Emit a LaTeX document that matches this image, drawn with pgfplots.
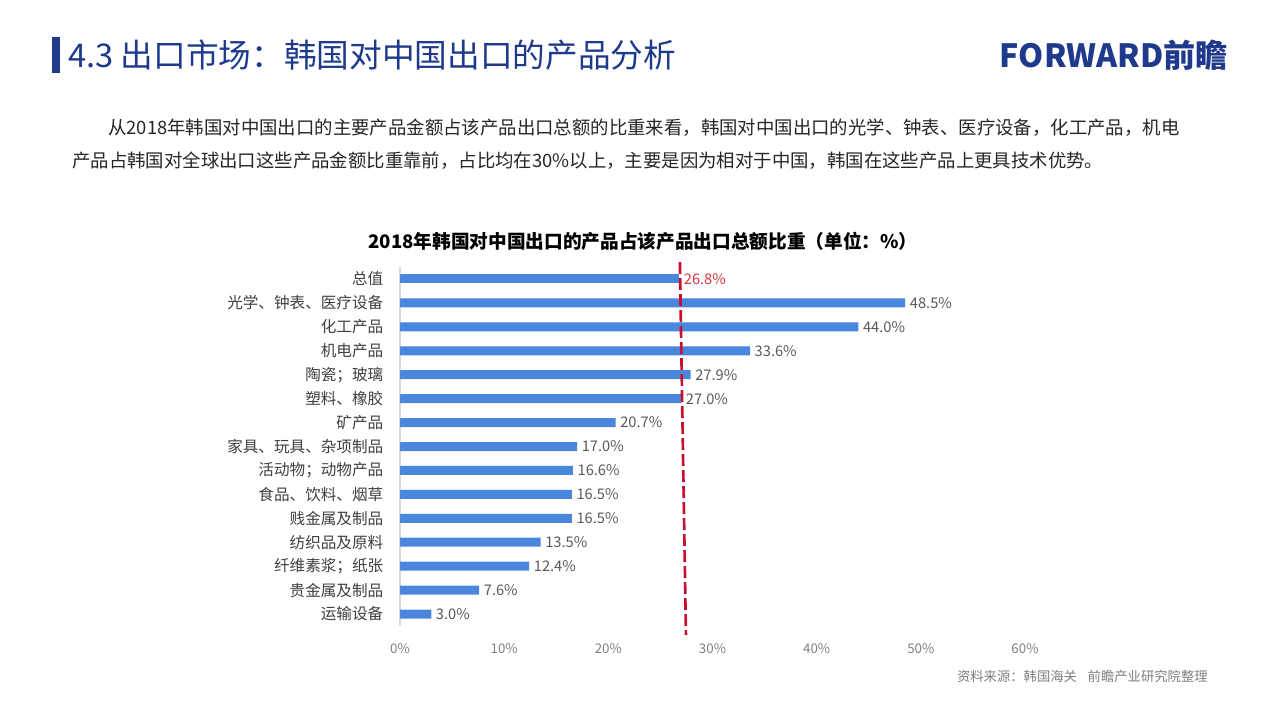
\documentclass[border=0pt]{standalone}
\usepackage{fontspec}
\setmainfont{Noto Sans CJK SC}
\usepackage{pgfplots}
\pgfplotsset{compat=1.18}

\definecolor{titleblue}{HTML}{1F3A8C}
\definecolor{barblue}{HTML}{4A86DC}
\definecolor{lineRed}{HTML}{C8102E}
\definecolor{labelRed}{HTML}{D9363E}
\definecolor{catgray}{HTML}{404040}
\definecolor{valgray}{HTML}{595959}
\definecolor{tickgray}{HTML}{808080}

\begin{document}
\begin{tikzpicture}[x=0.75pt, y=-0.75pt]
% page, 1 unit = 1 px of the slide
\path[use as bounding box, fill=white] (0,0) rectangle (1280,705);

% slide header
\fill[titleblue] (52,37) rectangle (60,73);
\node[anchor=west, inner sep=0, text=titleblue, font=\fontsize{24.5}{28}\selectfont] at (68,55) {4.3 出口市场：韩国对中国出口的产品分析};
\node[anchor=east, inner sep=0, text=titleblue, font=\fontsize{24}{28}\selectfont\bfseries] at (1228,55) {FORWARD前瞻};

% text
\node[anchor=west, inner sep=0, text=black!85, font=\fontsize{13.8}{16}\selectfont] at (108,128) {从2018年韩国对中国出口的主要产品金额占该产品出口总额的比重来看，韩国对中国出口的光学、钟表、医疗设备，化工产品，机电};
\node[anchor=west, inner sep=0, text=black!85, font=\fontsize{13.8}{16}\selectfont] at (72,161) {产品占韩国对全球出口这些产品金额比重靠前，占比均在30\%以上，主要是因为相对于中国，韩国在这些产品上更具技术优势。};

% chart title
\node[inner sep=0, text=black, font=\fontsize{14}{16}\selectfont\bfseries] at (643,241) {2018年韩国对中国出口的产品占该产品出口总额比重（单位：\%）};

% source
\node[anchor=east, inner sep=0, text=tickgray, font=\fontsize{10}{12}\selectfont] at (1208,676) {资料来源：韩国海关\hspace{0.8em}前瞻产业研究院整理};

\begin{axis}[
  at={(300pt,-469.5pt)}, anchor=south west,
  scale only axis,
  width=468.75pt, height=269.25pt,
  xmin=0, xmax=60,
  ymin=-0.5, ymax=14.5,
  clip=false,
  axis x line=bottom,
  axis y line=left,
  x axis line style={draw=none},
  y axis line style={draw=black!15, line width=0.8pt, -},
  major tick length=0pt,
  xtick={0,10,...,60},
  xticklabels={0\%,10\%,20\%,30\%,40\%,50\%,60\%},
  xticklabel style={text=tickgray, font=\fontsize{10}{12}\selectfont, yshift=-10pt},
  ytick={0,...,14},
  yticklabels={运输设备,贵金属及制品,纤维素浆；纸张,纺织品及原料,贱金属及制品,食品、饮料、烟草,活动物；动物产品,家具、玩具、杂项制品,矿产品,塑料、橡胶,陶瓷；玻璃,机电产品,化工产品,光学、钟表、医疗设备,总值},
  yticklabel style={text=catgray, font=\fontsize{11.7}{13}\selectfont, xshift=-9pt},
  valuebar/.style={xbar, bar width=6.75pt, bar shift=0pt, fill=barblue, draw=none,
    nodes near coords={\pgfmathprintnumber[fixed,fixed zerofill,precision=1,assume math mode=true]{\pgfplotspointmeta}\%},
    nodes near coords align={horizontal}},
]
\addplot[valuebar,
  every node near coord/.append style={text=valgray, font=\fontsize{11}{13}\selectfont}]
  coordinates {
  (3.0,0) (7.6,1) (12.4,2) (13.5,3) (16.5,4) (16.5,5) (16.6,6)
  (17.0,7) (20.7,8) (27.0,9) (27.9,10) (33.6,11) (44.0,12) (48.5,13)
};
\addplot[valuebar,
  every node near coord/.append style={text=labelRed, font=\fontsize{11}{13}\selectfont}]
  coordinates {(26.8,14)};
% average marker line
\addplot[lineRed, line width=2pt, dash pattern=on 9pt off 3pt]
  coordinates {(26.87,14.7) (27.45,-0.88)};
\end{axis}
\end{tikzpicture}
\end{document}
